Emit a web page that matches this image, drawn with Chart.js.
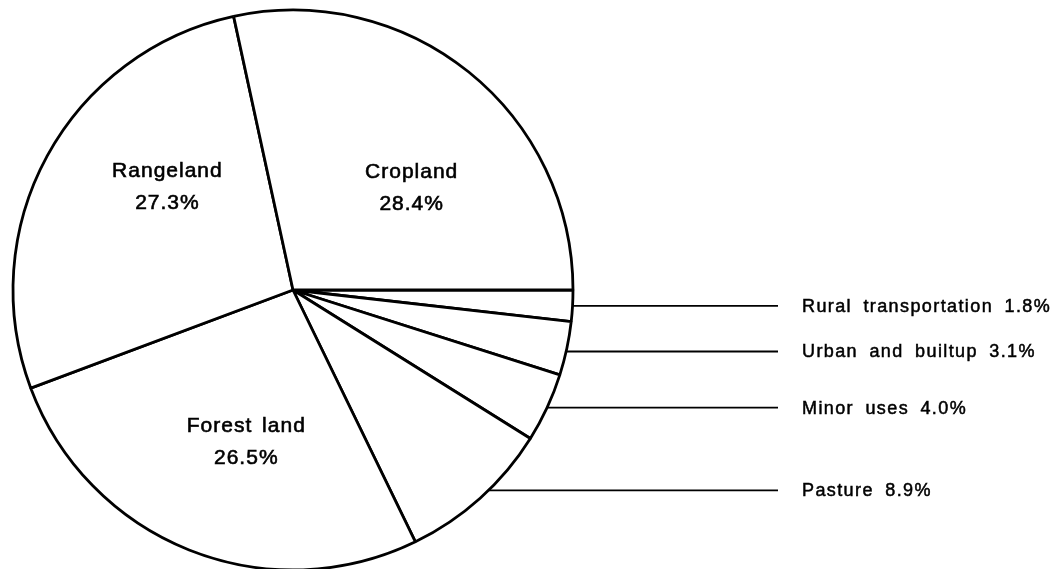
<!DOCTYPE html>
<html>
<head>
<meta charset="utf-8">
<script src="https://cdn.jsdelivr.net/npm/chart.js@4.4.1/dist/chart.umd.min.js"></script>
<style>
  html, body { margin: 0; padding: 0; background: #fff; overflow: hidden; }
  #wrap { position: relative; width: 1057px; height: 569px; }
</style>
</head>
<body>
<div id="wrap"><canvas id="landuse_chart"></canvas></div>
<script>
// clockwise from 3 o'clock
const categories = ['Rural transportation', 'Urban and builtup', 'Minor uses', 'Pasture', 'Forest land', 'Rangeland', 'Cropland'];
const shares = [1.8, 3.1, 4.0, 8.9, 26.5, 27.3, 28.4];
const shareLabels = ['1.8%', '3.1%', '4.0%', '8.9%', '26.5%', '27.3%', '28.4%'];

// small nudges for the label text (pixels)
const insideNudge = { 4: [12, 4], 5: [14, -26], 6: [18, 22] };
const outsideNudge = { 1: 3, 3: -8 };

function spacedText(ctx, str, x, y, align, letter, word) {
    const chars = Array.from(str);
    let total = 0;
    const widths = chars.map(function(ch) {
        return ctx.measureText(ch).width;
    });
    chars.forEach(function(ch, i) {
        total += widths[i];
        if (i < chars.length - 1) total += letter;
        if (ch === ' ') total += word;
    });
    let cx = align === 'center' ? x - total / 2 : x;
    ctx.textAlign = 'left';
    chars.forEach(function(ch, i) {
        ctx.fillText(ch, cx, y);
        ctx.strokeText(ch, cx, y);
        cx += widths[i] + letter + (ch === ' ' ? word : 0);
    });
}

const sliceLabels = {
    id: 'sliceLabels',
    afterDatasetsDraw(chart) {
        const ctx = chart.ctx;
        const arcs = chart.getDatasetMeta(0).data;
        ctx.save();
        ctx.fillStyle = '#000';
        ctx.strokeStyle = '#000';
        ctx.textBaseline = 'middle';
        arcs.forEach(function(arc, i) {
            const p = arc.getProps(['x', 'y', 'startAngle', 'endAngle', 'outerRadius'], true);
            const mid = (p.startAngle + p.endAngle) / 2;
            if (shares[i] > 10) {
                const n = insideNudge[i] || [0, 0];
                const lx = p.x + Math.cos(mid) * p.outerRadius * 0.57 + n[0];
                const ly = p.y + Math.sin(mid) * p.outerRadius * 0.57 + n[1];
                ctx.font = '21px "Liberation Sans", Arial, sans-serif';
                ctx.lineWidth = 0.6;
                spacedText(ctx, categories[i], lx, ly - 16, 'center', 1, 3);
                spacedText(ctx, shareLabels[i], lx, ly + 16, 'center', 1, 0);
            } else {
                const ly = p.y + Math.sin(mid) * p.outerRadius + (outsideNudge[i] || 0);
                const dy = ly - p.y;
                const x0 = p.x + Math.sqrt(p.outerRadius * p.outerRadius - dy * dy);
                const x1 = p.x + 485;
                ctx.lineWidth = 1.8;
                ctx.beginPath();
                ctx.moveTo(x0, ly);
                ctx.lineTo(x1, ly);
                ctx.stroke();
                ctx.font = '18px "Liberation Sans", Arial, sans-serif';
                ctx.lineWidth = 0.5;
                spacedText(ctx, categories[i] + ' ' + shareLabels[i], x1 + 24, ly + 1, 'left', 1.4, 5);
            }
        });
        ctx.restore();
    }
};

const config = {
    type: 'pie',
    data: {
        labels: categories,
        datasets: [{
            data: shares,
            backgroundColor: '#fff',
            borderColor: '#000',
            borderWidth: 2.8
        }]
    },
    options: {
        responsive: true,
        maintainAspectRatio: false,
        animation: false,
        rotation: 90,
        radius: 280,
        layout: {
            padding: { left: 0, right: 471, top: 11, bottom: 0 }
        },
        plugins: {
            legend: { display: false },
            tooltip: { enabled: false }
        }
    },
    plugins: [sliceLabels]
};

var cv = document.getElementById('landuse_chart');
var chart = new Chart(cv.getContext('2d'), config);
</script>
</body>
</html>
